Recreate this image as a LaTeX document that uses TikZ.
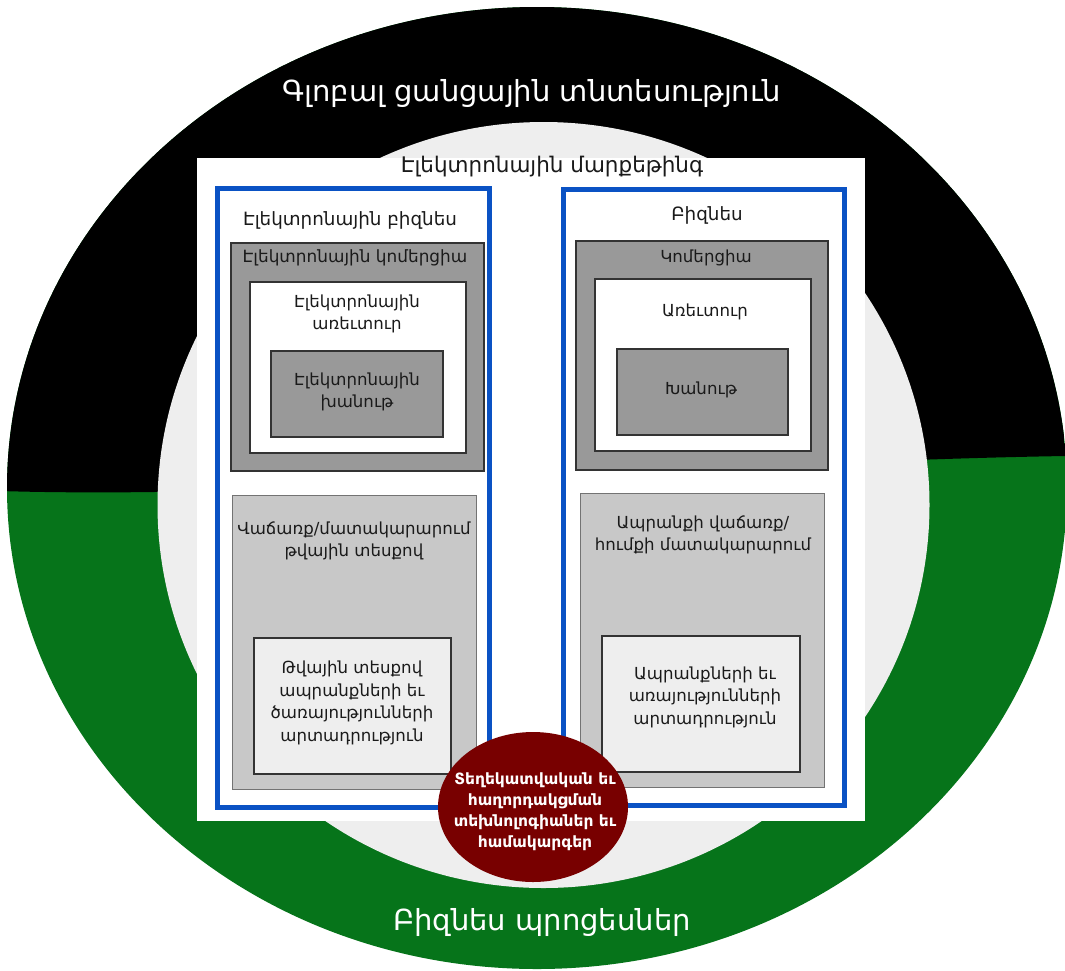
\documentclass[tikz,border=0pt]{standalone}
\usepackage{fontspec}
\usetikzlibrary{shapes.geometric}
\setmainfont{DejaVu Sans}
\definecolor{procgreen}{HTML}{06741A}
\definecolor{ringgrey}{HTML}{EEEEEE}
\definecolor{frameblue}{HTML}{0A52C4}
\definecolor{darkbox}{HTML}{999999}
\definecolor{midbox}{HTML}{C8C8C8}
\definecolor{palebox}{HTML}{EEEEEE}
\definecolor{ictred}{HTML}{780000}
\definecolor{inktext}{HTML}{1A1A1A}
\begin{document}
\begin{tikzpicture}[x=1pt,y=-1pt,
  panel/.style={rectangle,anchor=north west,inner sep=0pt,line width=1.6pt,draw=black!80},
  bluepanel/.style={rectangle,anchor=north west,inner sep=0pt,line width=5pt,draw=frameblue,fill=white},
  lbl/.style={text=inktext,align=center,inner sep=0pt,font=\fontsize{16.6}{22.5}\selectfont},
  biglbl/.style={text=white,align=center,inner sep=0pt,font=\fontsize{29}{34}\selectfont},
]
\useasboundingbox (0,0) rectangle (1065,970);

% outer ring: global network economy (top) and business processes (bottom)
\fill[procgreen] (537,488) ellipse [x radius=530pt, y radius=481pt];
\begin{scope}
  \clip (537,488) ellipse [x radius=530pt, y radius=481pt];
  \fill[black] (0,0) -- (1065,0) -- (1065,456)
    .. controls (700,462) and (300,500) .. (0,491) -- cycle;
\end{scope}

% inner light field
\fill[ringgrey] (543.5,505) ellipse [x radius=386pt, y radius=383pt];

% e-marketing sheet
\node[rectangle,anchor=north west,inner sep=0pt,fill=white,
  minimum width=668pt,minimum height=663pt] (mkt) at (197,158) {};

% two blue columns
\node[bluepanel,minimum width=272pt,minimum height=619pt] (ebiz) at (215,186) {};
\node[bluepanel,minimum width=281pt,minimum height=616pt] (biz) at (561,187) {};

% left column boxes
\node[panel,fill=darkbox,minimum width=253pt,minimum height=228pt] (ecom) at (230,242) {};
\node[panel,fill=white,minimum width=216pt,minimum height=171pt] (etrade) at (249,281) {};
\node[panel,fill=darkbox,minimum width=172pt,minimum height=86pt] (eshop) at (270,350) {};
\node[panel,fill=midbox,draw=black!55,line width=1.2pt,minimum width=244pt,minimum height=294pt] (edeliv) at (232,495) {};
\node[panel,fill=palebox,minimum width=197pt,minimum height=136pt] (eprod) at (253,637) {};

% right column boxes
\node[panel,fill=darkbox,minimum width=252pt,minimum height=229pt] (com) at (575,240) {};
\node[panel,fill=white,minimum width=216pt,minimum height=172pt] (trade) at (594,278) {};
\node[panel,fill=darkbox,minimum width=171pt,minimum height=86pt] (shop) at (616,348) {};
\node[panel,fill=midbox,draw=black!55,line width=1.2pt,minimum width=244pt,minimum height=294pt] (deliv) at (580,493) {};
\node[panel,fill=palebox,minimum width=198pt,minimum height=136pt] (prod) at (601,635) {};

% ICT ellipse
\node[ellipse,fill=ictred,minimum width=190pt,minimum height=150pt,inner sep=0pt] (ict) at (533,807) {};
\node[text=white,align=center,inner sep=0pt,font=\bfseries\fontsize{15.5}{21}\selectfont] (icttext) at (535,812)
  {Տեղեկատվական եւ\\հաղորդակցման\\տեխնոլոգիաներ եւ\\համակարգեր};

% labels
\node[biglbl] (tglobal) at (532,93) {Գլոբալ ցանցային տնտեսություն};
\node[biglbl] (tproc) at (542,922) {Բիզնես պրոցեսներ};
\node[lbl,font=\fontsize{21.5}{25}\selectfont] (tmkt) at (552,167) {Էլեկտրոնային մարքեթինգ};

\node[lbl,font=\fontsize{18.3}{22}\selectfont] (tebiz) at (350,220) {Էլեկտրոնային բիզնես};
\node[lbl,font=\fontsize{16.9}{22}\selectfont] (tecom) at (355,258) {Էլեկտրոնային կոմերցիա};
\node[lbl] (tetrade) at (357,314) {Էլեկտրոնային\\առեւտուր};
\node[lbl] (teshop) at (357,392) {Էլեկտրոնային\\խանութ};
\node[lbl] (tedeliv) at (354,541) {Վաճառք/մատակարարում\\թվային տեսքով};
\node[lbl] (teprod) at (352,703) {Թվային տեսքով\\ապրանքների եւ\\ծառայությունների\\արտադրություն};

\node[lbl,font=\fontsize{18.3}{22}\selectfont] (tbiz) at (707,215) {Բիզնես};
\node[lbl] (tcom) at (706,258) {Կոմերցիա};
\node[lbl] (ttrade) at (705,312) {Առեւտուր};
\node[lbl] (tshop) at (701,390) {Խանութ};
\node[lbl] (tdeliv) at (703,535) {Ապրանքի վաճառք/\\հումքի մատակարարում};
\node[lbl] (tprod) at (705,697) {Ապրանքների եւ\\առայությունների\\արտադրություն};
\end{tikzpicture}
\end{document}
